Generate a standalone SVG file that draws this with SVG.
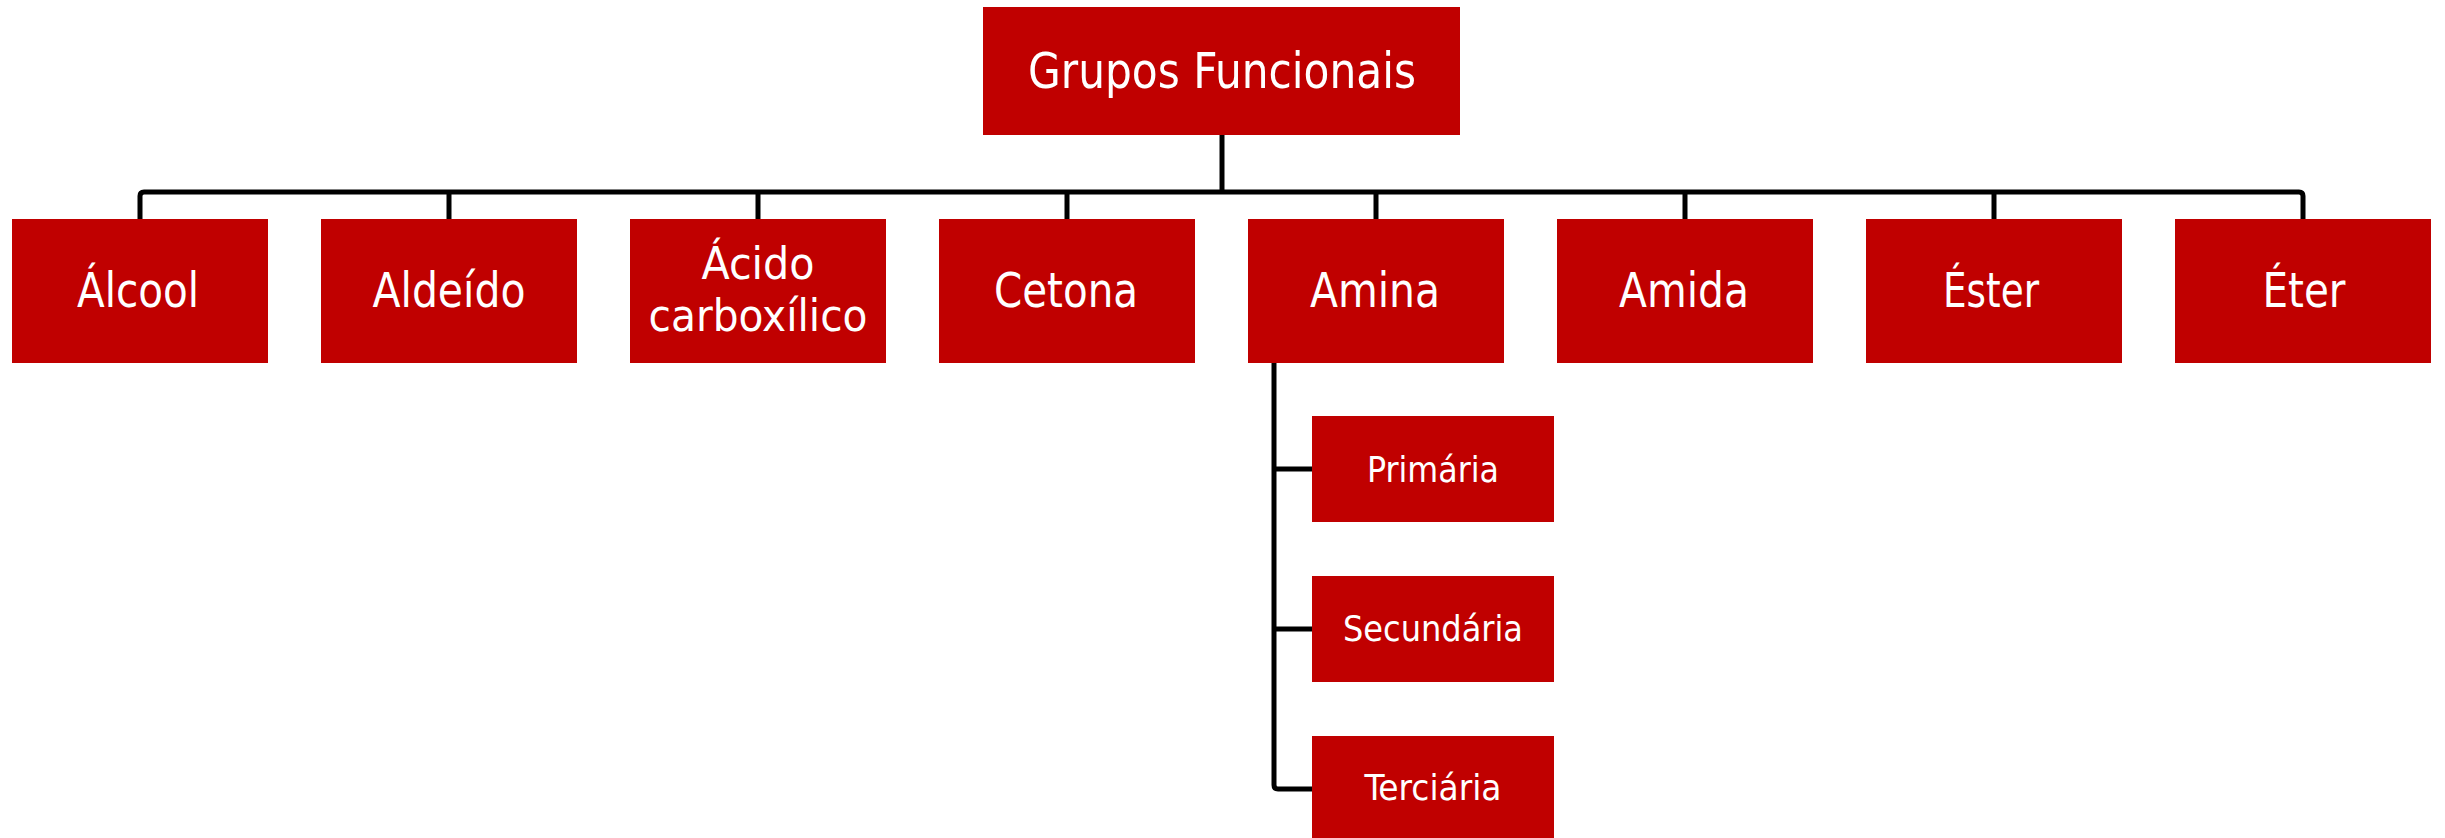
<svg xmlns="http://www.w3.org/2000/svg" width="2445" height="838" viewBox="0 0 2445 838">
<style>
.box{fill:#C00000}
.t{fill:#FFFFFF;font-family:"DejaVu Sans Condensed","DejaVu Sans",sans-serif;text-anchor:middle}
.l0{font-size:50px}
.l1{font-size:48px}
.l1s{font-size:44px}
.l2{font-size:36px}
.c{fill:none;stroke:#000000;stroke-width:5;stroke-linejoin:round;stroke-linecap:butt}
</style>
<rect width="2445" height="838" fill="#FFFFFF"/>
<g id="connectors">
<path class="c" d="M1222,135 V192"/>
<path class="c" d="M140,219 V196 Q140,192 144,192 H2299 Q2303,192 2303,196 V219"/>
<path class="c" d="M449,192 V219 M758,192 V219 M1067,192 V219 M1376,192 V219 M1685,192 V219 M1994,192 V219"/>
<path class="c" d="M1274,363 V785 Q1274,789 1278,789 H1312 M1274,469 H1312 M1274,629 H1312"/>
</g>
<g id="root"><rect class="box" x="983" y="7" width="477" height="128"/><text class="t l0" x="1222" y="88" textLength="388" lengthAdjust="spacingAndGlyphs">Grupos Funcionais</text></g>
<g id="alcool"><rect class="box" x="12" y="219" width="256" height="144"/><text class="t l1" x="138" y="307" textLength="122" lengthAdjust="spacingAndGlyphs">Álcool</text></g>
<g id="aldeido"><rect class="box" x="321" y="219" width="256" height="144"/><text class="t l1" x="449" y="307" textLength="153" lengthAdjust="spacingAndGlyphs">Aldeído</text></g>
<g id="acido"><rect class="box" x="630" y="219" width="256" height="144"/><text class="t l1s" x="758" y="279" textLength="113" lengthAdjust="spacingAndGlyphs">Ácido</text><text class="t l1s" x="758" y="331" textLength="219" lengthAdjust="spacingAndGlyphs">carboxílico</text></g>
<g id="cetona"><rect class="box" x="939" y="219" width="256" height="144"/><text class="t l1" x="1066" y="307" textLength="144" lengthAdjust="spacingAndGlyphs">Cetona</text></g>
<g id="amina"><rect class="box" x="1248" y="219" width="256" height="144"/><text class="t l1" x="1375" y="307" textLength="130" lengthAdjust="spacingAndGlyphs">Amina</text></g>
<g id="amida"><rect class="box" x="1557" y="219" width="256" height="144"/><text class="t l1" x="1684" y="307" textLength="130" lengthAdjust="spacingAndGlyphs">Amida</text></g>
<g id="ester"><rect class="box" x="1866" y="219" width="256" height="144"/><text class="t l1" x="1991" y="307" textLength="96" lengthAdjust="spacingAndGlyphs">Éster</text></g>
<g id="eter"><rect class="box" x="2175" y="219" width="256" height="144"/><text class="t l1" x="2304" y="307" textLength="83" lengthAdjust="spacingAndGlyphs">Éter</text></g>
<g id="primaria"><rect class="box" x="1312" y="416" width="242" height="106"/><text class="t l2" x="1433" y="482" textLength="132" lengthAdjust="spacingAndGlyphs">Primária</text></g>
<g id="secundaria"><rect class="box" x="1312" y="576" width="242" height="106"/><text class="t l2" x="1433" y="641" textLength="180" lengthAdjust="spacingAndGlyphs">Secundária</text></g>
<g id="terciaria"><rect class="box" x="1312" y="736" width="242" height="106"/><text class="t l2" x="1433" y="800" textLength="137" lengthAdjust="spacingAndGlyphs">Terciária</text></g>
</svg>
